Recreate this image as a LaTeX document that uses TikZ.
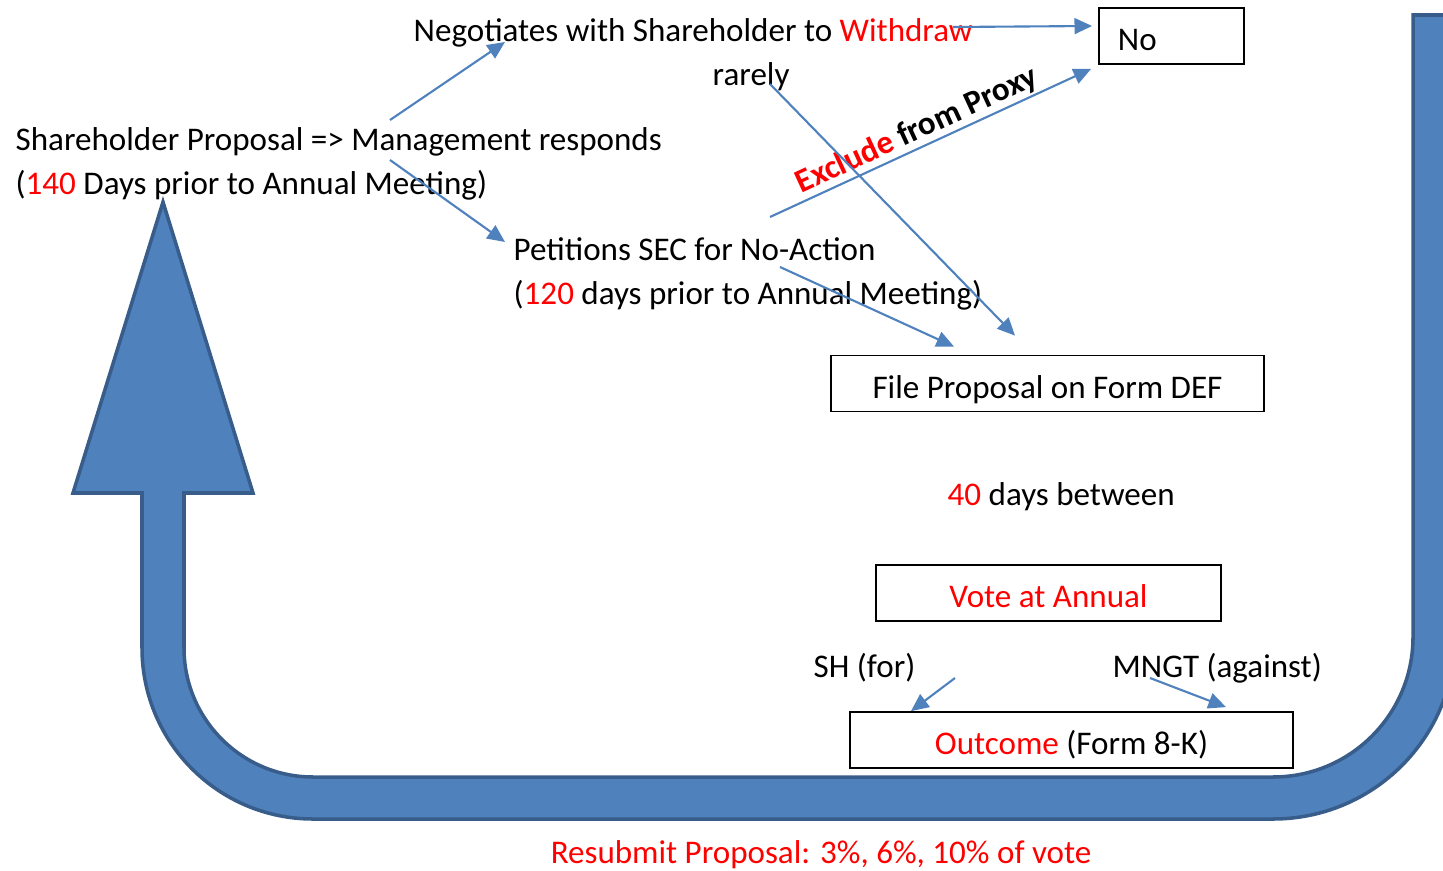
\documentclass[tikz,border=0pt]{standalone}
\usepackage{fontspec}
\setmainfont{Carlito}
\usetikzlibrary{arrows.meta,calc}
\definecolor{linkblue}{RGB}{79,129,189}
\definecolor{loopfill}{RGB}{79,129,189}
\definecolor{loopedge}{RGB}{56,93,138}
\definecolor{hot}{RGB}{255,0,0}
\newcommand{\hl}[1]{\textcolor{hot}{#1}}

\begin{document}
\begin{tikzpicture}[x=0.01cm,y=-0.01cm,font=\fontsize{9.4}{11}\selectfont,
  txt/.style={inner sep=0pt,anchor=base west},
  box/.style={draw,line width=0.5pt,text height=8.4pt,text depth=0pt,minimum height=0.56cm},
  link/.style={linkblue,line width=0.6pt,-{Triangle[length=5pt,width=4.5pt]}}]
\useasboundingbox (0,0) rectangle (1443,870);
% resubmit loop
\draw[fill=loopfill,draw=loopedge,line width=1pt] (1413,15) -- (1455,15) -- (1455,637)
  .. controls (1455,737.5) and (1373.5,819) .. (1273,819) -- (313,819)
  .. controls (218.6,819) and (142,742.4) .. (142,648) -- (142,493) -- (73,493)
  -- (163,202) -- (253,493) -- (184,493) -- (184,648)
  .. controls (184,719.2) and (241.8,777) .. (313,777) -- (1273,777)
  .. controls (1350.3,777) and (1413,714.3) .. (1413,637) -- cycle;
% texts
\node[txt] (proposal) at (15,151) {Shareholder Proposal => Management responds};
\node[txt] (propdays) at (15,194) {(\hl{140} Days prior to Annual Meeting)};
\node[txt] (negotiate) at (413,42) {Negotiates with Shareholder to \hl{Withdraw}};
\node[txt] (rarely) at (712,86) {rarely};
\node[txt] (petition) at (513,260) {Petitions SEC for No-Action};
\node[txt] (petdays) at (513,304) {(\hl{120} days prior to Annual Meeting)};
\node[txt] (between) at (947,505) {\hl{40} days between};
\node[txt] (sh) at (813,677) {SH (for)};
\node[txt] (mngt) at (1112,677) {MNGT (against)};
\node[inner sep=0pt,anchor=base,text=hot] (resubmit) at (821,863) {Resubmit Proposal: 3\%, 6\%, 10\% of vote};
% boxes
\node[box,minimum width=1.45cm,text width=1.07cm,inner xsep=0.19cm,align=left] (no) at (1171.5,36) {No};
\node[box,minimum width=4.33cm] (def) at (1047.5,383.5) {File Proposal on Form DEF};
\node[box,minimum width=3.45cm,text=hot] (vote) at (1048.5,593) {Vote at Annual};
\node[box,minimum width=4.43cm] (outcome) at (1071.5,740) {\hl{Outcome} (Form 8-K)};
% arrows
\draw[link] ($(proposal.base west)+(375,-31)$) -- ($(negotiate.base west)+(92,0)$);
\draw[link] ($(proposal.base west)+(375,9)$) -- ($(petition.base west)+(-8,-18)$);
\draw[link] ($(negotiate.base west)+(540,-15)$) -- ($(no.west)+(-6,-10)$);
\draw[link] ($(petition.base west)+(257,-43)$) -- ($(no.south west)+(-7,4)$)
  node[pos=0.48,sloped,above,inner sep=0.5pt,text=black,font=\fontsize{9.4}{11}\selectfont\bfseries] (proxy) {\hl{Exclude} from Proxy};
\draw[link] ($(rarely.base west)+(58,-2)$) -- ($(def.north west)+(185,-19)$);
\draw[link] ($(petition.base west)+(267,7)$) -- ($(def.north west)+(124,-8)$);
\draw[link] ($(sh.base west)+(142,1)$) -- ($(outcome.north west)+(62,0)$);
\draw[link] ($(mngt.base west)+(38,1)$) -- ($(outcome.north west)+(377,-4)$);
\end{tikzpicture}
\end{document}
